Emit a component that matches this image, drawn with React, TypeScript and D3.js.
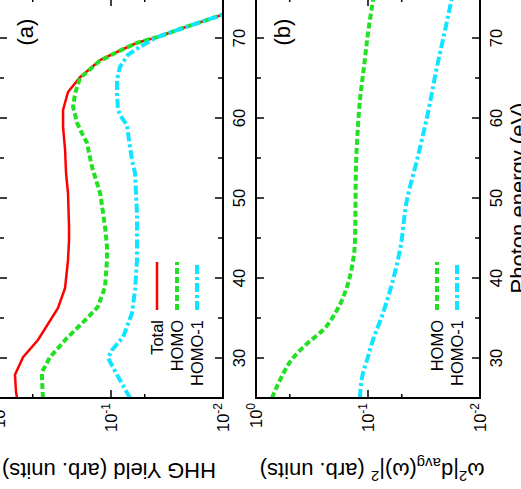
import { useEffect, useRef } from "react";
import * as d3 from "d3";

// photon energy (eV) and yield pairs
const totalA: [number, number][] = [
  [25, 0.69], [25.75, 0.705], [27.9, 0.72], [30.1, 0.61], [32.25, 0.449], [36.25, 0.297],
  [38.75, 0.257], [42.25, 0.242], [44.75, 0.237], [46.4, 0.237], [50.6, 0.242], [53.1, 0.252],
  [56, 0.257], [58.9, 0.268], [61, 0.268], [63.25, 0.242], [65.1, 0.189], [67.25, 0.125],
  [68.25, 0.0884], [69.4, 0.0586], [70.1, 0.0388], [71.25, 0.0228], [72.25, 0.0139],
  [72.9, 0.0102], [73.5, 0.0074],
];
const homoA: [number, number][] = [
  [25, 0.405], [27.25, 0.413], [28.25, 0.413], [30.1, 0.351], [32.5, 0.247], [35.1, 0.16],
  [36.4, 0.131], [38.9, 0.113], [42.25, 0.1086], [43.9, 0.1086], [46.4, 0.113], [50.6, 0.125],
  [53.9, 0.148], [56.9, 0.164], [58.1, 0.182], [59.4, 0.201], [61.4, 0.218], [63.1, 0.209],
  [65, 0.189], [67.1, 0.127], [68.25, 0.0884], [69.4, 0.0586], [70.1, 0.0388], [71.25, 0.0228],
  [72.25, 0.0139], [72.9, 0.0102], [73.5, 0.0074],
];
const homo1A: [number, number][] = [
  [25, 0.0676], [27.25, 0.0832], [30, 0.1064], [31, 0.098], [32.6, 0.078], [35.6, 0.065],
  [38.5, 0.061], [42.25, 0.0586], [48.1, 0.0586], [53.1, 0.061], [54.75, 0.065], [58.1, 0.0705],
  [59.1, 0.072], [60, 0.0797], [61, 0.0866], [63.1, 0.0884], [64.75, 0.0884], [66.4, 0.0832],
  [67.9, 0.0705], [68.9, 0.0551], [70.1, 0.0388], [71.25, 0.0228], [72.25, 0.0139],
  [72.9, 0.0102], [73.5, 0.0074],
];
const homoB: [number, number][] = [
  [25, 0.72], [27.25, 0.61], [30, 0.467], [31.9, 0.343], [33.5, 0.252], [36, 0.189],
  [38.9, 0.154], [41.4, 0.139], [44.75, 0.1306], [53.9, 0.128], [58.9, 0.123], [62.25, 0.118],
  [66.4, 0.1086], [70.6, 0.1], [75, 0.0895],
];
const homo1B: [number, number][] = [
  [25, 0.118], [28.1, 0.111], [29.75, 0.102], [31.9, 0.092], [35.6, 0.0735], [39.75, 0.0598],
  [43.5, 0.0518], [49.75, 0.0449], [54.75, 0.0365], [60.1, 0.0297], [66.4, 0.0242],
  [71, 0.0205], [75, 0.0178],
];

const energyTicks = [25, 30, 35, 40, 45, 50, 55, 60, 65, 70, 75];
const energyLabels = [30, 40, 50, 60, 70];
const yMajor = [1, 0.1, 0.01];
const yMinor = [0.5, 0.05];
const yLabels = ["0", "-1", "-2"];

const W = 489; // unrotated frame width
const H = 521; // unrotated frame height
const font = "'Liberation Sans', Arial, Helvetica, sans-serif";

const styles: Record<string, { color: string; width: number; dash: string | null }> = {
  Total: { color: "#ff0000", width: 2.5, dash: null },
  HOMO: { color: "#22e022", width: 4, dash: "6,3" },
  "HOMO-1": { color: "#11e4ff", width: 4, dash: "9,3,3,3" },
};

export default function App() {
  const ref = useRef<SVGSVGElement>(null);

  useEffect(() => {
    const svg = d3.select(ref.current);
    svg.selectAll("*").remove();
    // the figure is drawn upright, then turned a quarter turn counter-clockwise
    const root = svg.append("g").attr("transform", `translate(0,${W}) rotate(-90)`);

    const x = d3.scaleLinear().domain([25, 75]).range([91, 491]);
    const panels = [
      {
        id: "a", top: -1, bottom: 223, tag: "(a)",
        series: [["Total", totalA], ["HOMO", homoA], ["HOMO-1", homo1A]] as [string, [number, number][]][],
        keyRows: [157, 177, 197],
        curve: d3.curveLinear,
      },
      {
        id: "b", top: 256, bottom: 480, tag: "(b)",
        series: [["HOMO", homoB], ["HOMO-1", homo1B]] as [string, [number, number][]][],
        keyRows: [437, 457],
        curve: d3.curveMonotoneX,
      },
    ];

    panels.forEach((p) => {
      const y = d3.scaleLog().domain([1, 0.01]).range([p.top, p.bottom]);
      const g = root.append("g");

      g.append("clipPath").attr("id", "clip-" + p.id)
        .append("rect").attr("x", x(25)).attr("y", p.top)
        .attr("width", x(75) - x(25)).attr("height", p.bottom - p.top);

      const line = d3.line<[number, number]>().x((d) => x(d[0])).y((d) => y(d[1])).curve(p.curve);
      p.series.forEach(([name, data]) => {
        const s = styles[name];
        g.append("path").attr("clip-path", `url(#clip-${p.id})`)
          .attr("d", line(data)).attr("fill", "none")
          .attr("stroke", s.color).attr("stroke-width", s.width)
          .attr("stroke-dasharray", s.dash);
      });

      // frame
      g.append("rect").attr("x", x(25)).attr("y", p.top)
        .attr("width", x(75) - x(25)).attr("height", p.bottom - p.top)
        .attr("fill", "none").attr("stroke", "#000").attr("stroke-width", 2);

      // energy ticks on both horizontal borders
      energyTicks.forEach((e) => {
        const len = energyLabels.includes(e) ? 8 : 5;
        g.append("line").attr("x1", x(e)).attr("x2", x(e))
          .attr("y1", p.bottom).attr("y2", p.bottom - len).attr("stroke", "#000").attr("stroke-width", 1.5);
        g.append("line").attr("x1", x(e)).attr("x2", x(e))
          .attr("y1", p.top).attr("y2", p.top + len).attr("stroke", "#000").attr("stroke-width", 1.5);
      });
      energyLabels.forEach((e) => {
        g.append("text").attr("x", x(e)).attr("y", p.bottom + 22)
          .attr("text-anchor", "middle").attr("font-family", font).attr("font-size", 16.5)
          .text(String(e));
      });

      // log ticks on both vertical borders
      [...yMajor.map((v) => [v, 8]), ...yMinor.map((v) => [v, 4])].forEach(([v, len]) => {
        g.append("line").attr("x1", x(25)).attr("x2", x(25) + len)
          .attr("y1", y(v)).attr("y2", y(v)).attr("stroke", "#000").attr("stroke-width", 1.5);
        g.append("line").attr("x1", x(75)).attr("x2", x(75) - len)
          .attr("y1", y(v)).attr("y2", y(v)).attr("stroke", "#000").attr("stroke-width", 1.5);
      });
      yMajor.forEach((v, i) => {
        const t = g.append("text").attr("x", x(25) - 5).attr("y", y(v) + 6)
          .attr("text-anchor", "end").attr("font-family", font).attr("font-size", 16.5);
        t.append("tspan").text("10");
        t.append("tspan").attr("font-size", 12).attr("dy", -7).text(yLabels[i]);
      });

      // panel tag
      g.append("text").attr("x", 457).attr("y", p.top + 34)
        .attr("text-anchor", "middle").attr("font-family", font).attr("font-size", 22)
        .text(p.tag);

      // key
      p.series.forEach(([name], i) => {
        const s = styles[name];
        const ry = p.keyRows[i];
        g.append("text").attr("x", 169).attr("y", ry + 6)
          .attr("text-anchor", "end").attr("font-family", font).attr("font-size", 16.5).text(name);
        g.append("line").attr("x1", 179).attr("x2", 227).attr("y1", ry).attr("y2", ry)
          .attr("stroke", s.color).attr("stroke-width", s.width).attr("stroke-dasharray", s.dash);
      });
    });

    // axis titles
    const ya = root.append("text").attr("transform", "translate(26,109) rotate(-90)")
      .attr("text-anchor", "middle").attr("font-family", font).attr("font-size", 22);
    ya.text("HHG Yield (arb. units)");

    const yb = root.append("text").attr("transform", "translate(26,372) rotate(-90)")
      .attr("text-anchor", "middle").attr("font-family", font).attr("font-size", 22);
    yb.append("tspan").text("ω");
    yb.append("tspan").attr("font-size", 15).attr("dy", -8).text("2");
    yb.append("tspan").attr("dy", 8).text("|d");
    yb.append("tspan").attr("font-size", 15).attr("dy", 5).text("avg");
    yb.append("tspan").attr("dy", -5).text("(ω)|");
    yb.append("tspan").attr("font-size", 15).attr("dy", -8).text("2");
    yb.append("tspan").attr("dy", 8).text(" (arb. units)");

    root.append("text").attr("x", x(50)).attr("y", 526)
      .attr("text-anchor", "middle").attr("font-family", font).attr("font-size", 22)
      .text("Photon energy (eV)");
  }, []);

  return (
    <svg
      ref={ref}
      width={H}
      height={W}
      style={{ position: "fixed", left: 0, top: 0, background: "#fff" }}
    />
  );
}
